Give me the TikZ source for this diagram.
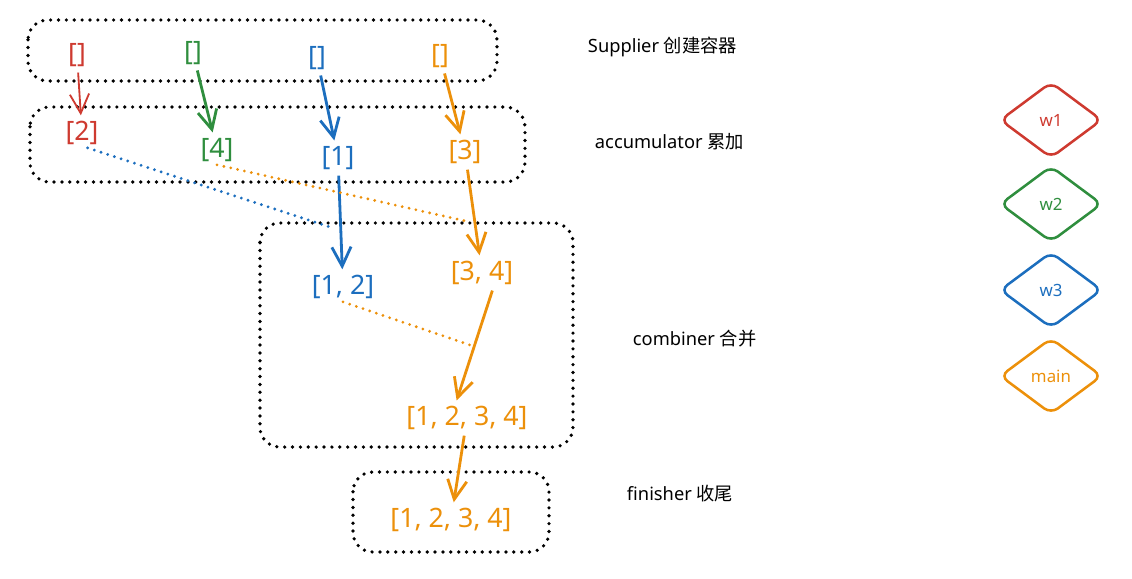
\documentclass[tikz,border=0pt]{standalone}
\usepackage{fontspec}
\setmainfont{Noto Sans}
\newfontfamily\cjk{Noto Sans CJK SC}
\usetikzlibrary{shapes.geometric,arrows.meta,positioning}
\definecolor{workerred}{RGB}{206,58,48}
\definecolor{workergreen}{RGB}{47,142,62}
\definecolor{workerblue}{RGB}{28,110,190}
\definecolor{mainorange}{RGB}{236,144,10}

\begin{document}
\begin{tikzpicture}[
        x=0.025cm, y=-0.025cm,
        list/.style={inner sep=2pt, font=\fontsize{19}{21}\selectfont},
        stage/.style={draw, dash pattern=on 0pt off 5.6pt, line cap=round, line width=2.6pt, rounded corners=14pt},
        phase/.style={anchor=west, font=\fontsize{13}{15}\selectfont},
        arrow/.style={-{Straight Barb[length=4.8mm, width=4.8mm]}, line width=2pt, shorten >=2pt, shorten <=2pt},
        link/.style={dash pattern=on 0pt off 5pt, line cap=round, line width=2.2pt},
        thread/.style={draw, diamond, aspect=1.37, minimum width=2.55cm, minimum height=1.9cm, inner sep=0pt, line width=1.8pt, rounded corners=6pt, font=\fontsize{12}{14}\selectfont}
    ]
        \useasboundingbox (0,0) rectangle (1132,579);

        % stages
        \draw[stage] (28,20) rectangle (497,81);
        \draw[stage] (30,107) rectangle (525,182);
        \draw[stage] (260,223) rectangle (573,447);
        \draw[stage] (353,472) rectangle (549,552);

        % supplier
        \node[list, workerred] (sup1) at (77,55) {[]};
        \node[list, workergreen] (sup2) at (193,53) {[]};
        \node[list, workerblue] (sup3) at (317,58) {[]};
        \node[list, mainorange] (sup4) at (440,56) {[]};

        % accumulator
        \node[list, workerred] (acc1) at (82,133) {[2]};
        \node[list, workergreen] (acc2) at (217,150) {[4]};
        \node[list, workerblue] (acc3) at (338,158) {[1]};
        \node[list, mainorange] (acc4) at (465,152) {[3]};

        % combiner
        \node[list, workerblue] (comb1) at (343,287) {[1, 2]};
        \node[list, mainorange] (comb2) at (482,273) {[3, 4]};
        \node[list, mainorange] (merged) at (467,418) {[1, 2, 3, 4]};

        % finisher
        \node[list, mainorange] (result) at (451,520) {[1, 2, 3, 4]};

        \draw[arrow, workerred, line width=1.3pt] (sup1) -- (acc1);
        \draw[arrow, workergreen] (sup2) -- (acc2);
        \draw[arrow, workerblue] (sup3) -- (acc3);
        \draw[arrow, mainorange] (sup4) -- (acc4);
        \draw[arrow, workerblue] (acc3) -- (comb1);
        \draw[arrow, mainorange] (acc4) -- (comb2);
        \draw[arrow, mainorange] ([xshift=8pt]comb2.south) -- ([xshift=-8pt]merged.north);
        \draw[arrow, mainorange] (merged) -- (result);

        \coordinate (pick1) at (333,228);
        \coordinate (pick2) at (470,222);
        \coordinate (pick3) at (470,345);
        \draw[link, workerblue] ([xshift=4pt]acc1.south) -- (pick1);
        \draw[link, mainorange] (acc2.south) -- (pick2);
        \draw[link, mainorange] (comb1.south) -- (pick3);

        % phases
        \node[phase] (supplier) at (583,47) {Supplier {\cjk 创建容器}};
        \node[phase] (accumulator) at (590,142) {accumulator {\cjk 累加}};
        \node[phase] (combiner) at (628,339) {combiner {\cjk 合并}};
        \node[phase] (finisher) at (622,494) {finisher {\cjk 收尾}};

        % threads
        \node[thread, workerred] (w1) at (1051,120) {w1};
        \node[thread, workergreen] (w2) at (1051,204) {w2};
        \node[thread, workerblue] (w3) at (1051,290) {w3};
        \node[thread, mainorange] (main) at (1051,376) {main};
    \end{tikzpicture}
\end{document}
